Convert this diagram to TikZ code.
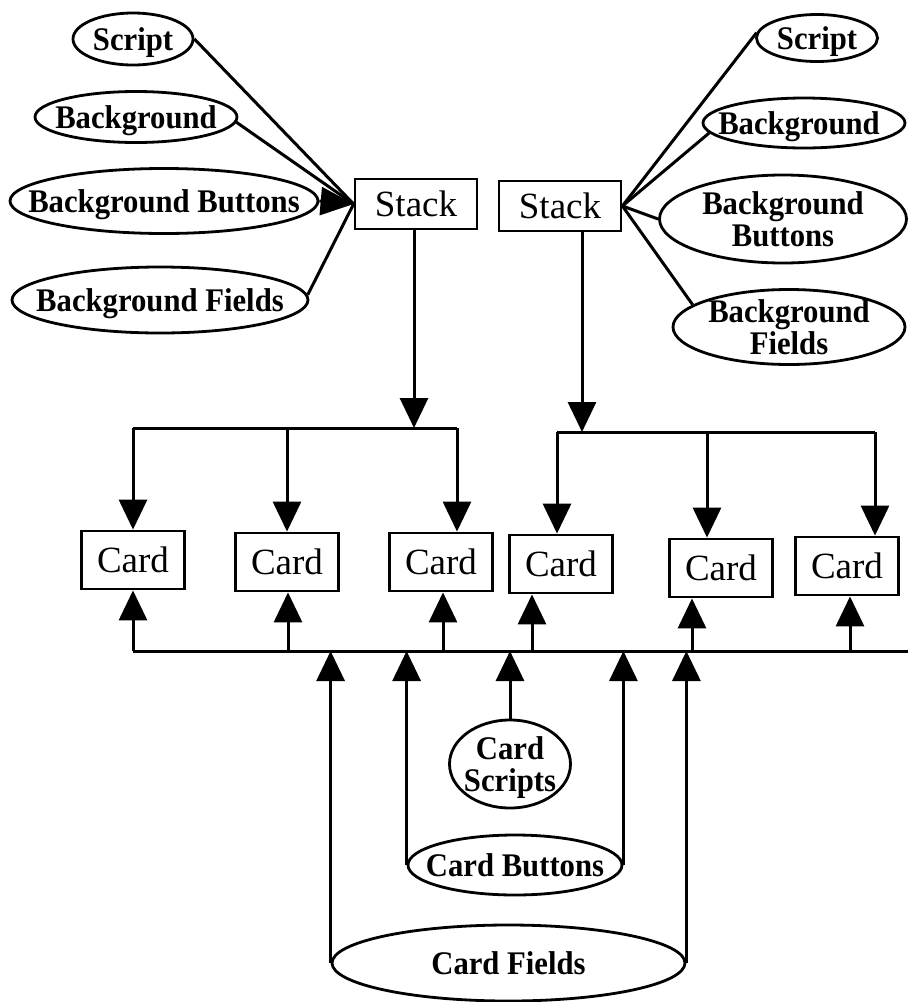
\documentclass[tikz,border=0pt]{standalone}
\usepackage{fontspec}
\setmainfont{Liberation Serif}
\newfontfamily\lblfont{Liberation Serif}[FakeStretch=0.93]
\usetikzlibrary{shapes.geometric,arrows.meta}
\begin{document}
\begin{tikzpicture}[x=1pt,y=-1pt,
  ln/.style={line width=3pt},
  ar/.style={ln,-{Triangle[length=30pt,width=28pt]}},
  box/.style={draw,line width=2.8pt,inner sep=0pt,font=\fontsize{37}{40}\selectfont},
  cardbox/.style={box,minimum width=103pt,minimum height=58pt},
  stackbox/.style={box,minimum width=122pt,minimum height=50pt},
  ell/.style={draw,ellipse,line width=2.8pt,inner sep=0pt},
  lbl/.style={font=\lblfont\fontsize{33}{32}\selectfont\bfseries,align=center,inner sep=0pt,text depth=0pt},
]
\useasboundingbox (0,0) rectangle (908,1002);

% stacks
\node[stackbox] (lstack) at (416,204) {Stack};
\node[stackbox] (rstack) at (560,206) {Stack};

% left ellipses
\node[ell,minimum width=120pt,minimum height=52pt] (ls) at (133,39) {};
\node[lbl] (lst) at (ls) {Script};
\node[ell,minimum width=202pt,minimum height=51pt] (lbg) at (136,117) {};
\node[lbl] (lbgt) at (lbg) {Background};
\node[ell,minimum width=308pt,minimum height=65pt] (lbb) at (164,201) {};
\node[lbl] (lbbt) at (lbb) {Background Buttons};
\node[ell,minimum width=296pt,minimum height=66pt] (lbf) at (160,300) {};
\node[lbl] (lbft) at (lbf) {Background Fields};

% right ellipses
\node[ell,minimum width=121pt,minimum height=47pt] (rs) at (817,38) {};
\node[lbl] (rst) at (rs) {Script};
\node[ell,minimum width=202pt,minimum height=50pt] (rbg) at (804,123) {};
\node[lbl] (rbgt) at (799,123) {Background};
\node[ell,minimum width=247pt,minimum height=88pt] (rbb) at (783,219) {};
\node[lbl] (rbbt) at (rbb) {Background\\Buttons};
\node[ell,minimum width=232pt,minimum height=75pt] (rbf) at (789,327) {};
\node[lbl] (rbft) at (rbf) {Background\\Fields};

% left connectors
\draw[ln] (ls.east) -- (lstack.west);
\draw[ln] (lbg.-3) -- (lstack.west);
\draw[ln,-{Triangle[length=33pt,width=28pt]}] (lbb.east) -- (lstack.west);
\draw[ln] (lbf.2) -- (lstack.west);

% right connectors
\draw[ln] (rstack.east) -- (rs.175);
\draw[ln] (rstack.east) -- (rbg.186);
\draw[ln] (rstack.east) -- (rbb.west);
\draw[ln] (rstack.east) -- (rbf.167);

% cards
\node[cardbox] (c1) at (133,560) {Card};
\node[cardbox] (c2) at (287,562) {Card};
\node[cardbox] (c3) at (441,562) {Card};
\node[cardbox] (c4) at (561,564) {Card};
\node[cardbox] (c5) at (721,568) {Card};
\node[cardbox] (c6) at (847,566) {Card};

% top buses
\coordinate (lb0) at (414,428);
\coordinate (lb1) at (133,428);
\coordinate (lb2) at (287,428);
\coordinate (lb3) at (457,428);
\draw[ar] (lb0 |- lstack.south) -- (lb0);
\draw[ln] (lb1) -- (lb3);
\draw[ar] (lb1) -- (c1.north);
\draw[ar] (lb2) -- (c2.north);
\draw[ar] (lb3) -- (lb3 |- c3.north);

\coordinate (rb0) at (582,432);
\coordinate (rb1) at (557,432);
\coordinate (rb2) at (707,432);
\coordinate (rb3) at (875,432);
\draw[ar] (rb0 |- rstack.south) -- (rb0);
\draw[ln] (rb1) -- (rb3);
\draw[ar] (rb1) -- (rb1 |- c4.north);
\draw[ar] (rb2) -- (rb2 |- c5.north);
\draw[ar] (rb3) -- (rb3 |- c6.north);

% bottom bus
\coordinate (bbL) at (133,651);
\coordinate (bbR) at (908,651);
\draw[ln] (bbL) -- (bbR);
\coordinate (u2) at (288,651);
\coordinate (u3) at (443,651);
\coordinate (u4) at (532,651);
\coordinate (u5) at (692,651);
\coordinate (u6) at (850,651);
\draw[ar] (bbL) -- (c1.south);
\draw[ar] (u2) -- (u2 |- c2.south);
\draw[ar] (u3) -- (u3 |- c3.south);
\draw[ar] (u4) -- (u4 |- c4.south);
\draw[ar] (u5) -- (u5 |- c5.south);
\draw[ar] (u6) -- (u6 |- c6.south);

% card scripts, buttons, fields
\node[ell,minimum width=121pt,minimum height=88pt] (cs) at (510,764) {};
\node[lbl] (cst) at (cs) {Card\\Scripts};
\node[ell,minimum width=214pt,minimum height=60pt] (cb) at (515,865) {};
\node[lbl] (cbt) at (cb) {Card Buttons};
\node[ell,minimum width=353pt,minimum height=76pt] (cf) at (508.5,963) {};
\node[lbl] (cft) at (cf) {Card Fields};

\draw[ar] (cs.north) -- (cs.north |- bbL);
\draw[ar] (cb.west) -- (cb.west |- bbL);
\draw[ar] (cb.east) -- (cb.east |- bbL);
\draw[ar] (cf.west) -- (cf.west |- bbL);
\draw[ar] (cf.east) -- (cf.east |- bbL);
\end{tikzpicture}
\end{document}
